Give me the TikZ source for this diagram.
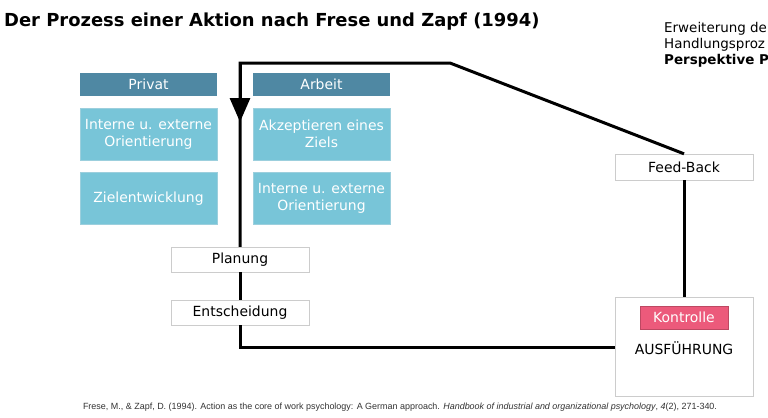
\documentclass[tikz,border=0pt]{standalone}
\usepackage{fontspec}
\setmainfont{DejaVu Sans}
\newfontfamily\reffont{Liberation Sans}
\usetikzlibrary{arrows.meta}
\definecolor{headblue}{HTML}{4F88A3}
\definecolor{boxblue}{HTML}{78C5D8}
\definecolor{boxline}{HTML}{9CCFDD}
\definecolor{kontrpink}{HTML}{EC5A7B}
\definecolor{greyline}{HTML}{CCCCCC}

\begin{document}
\begin{tikzpicture}[x=1bp,y=-1bp,
    head/.style={fill=headblue, text=white, minimum width=137bp, minimum height=23bp, inner sep=0pt, font=\fontsize{14}{16}\selectfont},
    item/.style={fill=boxblue, draw=boxline, text=white, minimum width=137bp, minimum height=52bp, inner sep=0pt, align=center, font=\fontsize{14}{17}\selectfont},
    stage/.style={fill=white, draw=greyline, minimum width=138bp, minimum height=25bp, inner sep=0pt, font=\fontsize{14}{16}\selectfont},
    flow/.style={line width=3bp, black}]
  \useasboundingbox (0,0) rectangle (768,417);
  % Titel und Text rechts oben
  \node[anchor=west, inner sep=0pt, font=\fontsize{18}{21}\selectfont\bfseries] (title) at (4,22) {Der Prozess einer Aktion nach Frese und Zapf (1994)};
  \node[anchor=north west, align=left, inner sep=0pt, font=\fontsize{13.5}{16}\selectfont] (ext) at (664,22) {Erweiterung de\\Handlungsproz\\\textbf{Perspektive P}};

  % Privat / Arbeit
  \node[head] (priv) at (148.5,84.5) {Privat};
  \node[head] (arb) at (321.5,84.5) {Arbeit};
  \node[item] (orientP) at (148.5,134) {Interne u. externe\\Orientierung};
  \node[item] (ziel) at (148.5,198.5) {Zielentwicklung};
  \node[item] (akzept) at (321.5,134) {Akzeptieren eines\\Ziels};
  \node[item] (orientA) at (321.5,198.5) {Interne u. externe\\Orientierung};

  % Phasen
  \node[stage] (plan) at (240,259.5) {Planung};
  \node[stage] (ents) at (240,312.5) {Entscheidung};
  \node[stage, minimum height=26bp] (fb) at (684,167) {Feed-Back};
  \node[stage, minimum height=99bp] (ausf) at (684,346.5) {};
  \node[fill=kontrpink, draw=kontrpink!80!black, text=white, minimum width=88bp, minimum height=23bp, inner sep=0pt, font=\fontsize{14}{16}\selectfont] (kontr) at (684,317.5) {Kontrolle};
  \node[font=\fontsize{14}{16}\selectfont] (ausfl) at (684,348) {AUSFÜHRUNG};

  % Kreislauf
  \coordinate (k1) at (450,63);
  \coordinate (k2) at (240,63);
  \coordinate (k3) at (240,347);
  \coordinate (tip) at (240,122);
  \draw[flow] (fb.north) -- (k1) -- (k2) -- (plan.north);
  \draw[flow, -{Triangle[width=20bp,length=24bp]}] (k2) -- (tip);
  \draw[flow] (plan) -- (ents);
  \draw[flow] (ents.south) -- (k3) -- (ausf.west |- k3);
  \draw[flow] (fb) -- (ausf);

  % Quelle
  \node[font=\reffont\fontsize{9}{11}\selectfont, text=black!80] (quelle) at (400,407) {Frese, M., \& Zapf, D. (1994). Action as the core of work psychology: A German approach. \textit{Handbook of industrial and organizational psychology}, \textit{4}(2), 271-340.};
\end{tikzpicture}
\end{document}
